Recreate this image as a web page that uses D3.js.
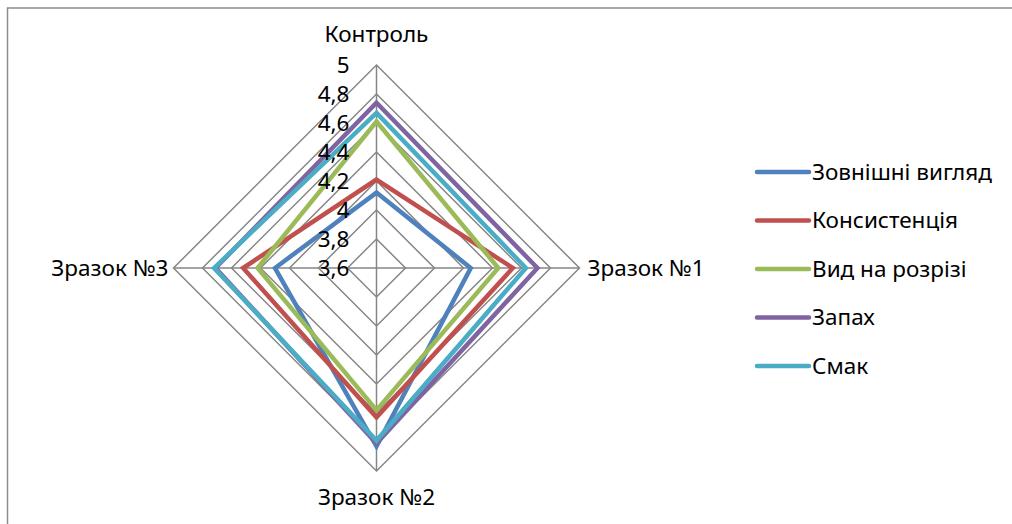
<!DOCTYPE html>
<html>
<head>
<meta charset="utf-8">
<script src="https://cdn.jsdelivr.net/npm/d3@7"></script>
<style>
  html, body { margin: 0; padding: 0; background: #fff; }
  svg { display: block; }
  text { font-family: "Noto Sans", "Open Sans", sans-serif; fill: #000; }
</style>
</head>
<body>
<svg id="chart" width="1012" height="524"></svg>
<script>
// Categories around the radar (clockwise from top)
const categories = ["Контроль", "Зразок №1", "Зразок №2", "Зразок №3"];

// Sensory scores per indicator
const seriesNames = ["Зовнішні вигляд", "Консистенція", "Вид на розрізі", "Запах", "Смак"];
const zovnishniVyhliad = [4.12, 4.25, 4.83, 4.30];
const konsystentsiia   = [4.21, 4.54, 4.63, 4.52];
const vydNaRozrizi     = [4.61, 4.44, 4.58, 4.42];
const zapakh           = [4.74, 4.71, 4.81, 4.71];
const smak             = [4.67, 4.63, 4.79, 4.72];

// Radial axis ticks
const tickValues = [3.6, 3.8, 4.0, 4.2, 4.4, 4.6, 4.8, 5.0];
const tickLabels = ["3,6", "3,8", "4", "4,2", "4,4", "4,6", "4,8", "5"];

const colors = ["#4F81BD", "#C0504D", "#9BBB59", "#8064A2", "#4BACC6"];
const seriesValues = [zovnishniVyhliad, konsystentsiia, vydNaRozrizi, zapakh, smak];

const FS = 22.5;
const svg = d3.select("#chart");

// Outer chart frame
svg.append("rect")
  .attr("x", 7.5).attr("y", 8)
  .attr("width", 1100).attr("height", 600)
  .attr("fill", "none")
  .attr("stroke", "#8c8c8c")
  .attr("stroke-width", 1.5);

const cx = 376.5, cy = 268, R = 203;
const r = d3.scaleLinear().domain([3.6, 5]).range([0, R]);
const ang = c => categories.indexOf(c) * (2 * Math.PI / categories.length);

const g = svg.append("g").attr("transform", `translate(${cx},${cy})`);

const radial = d3.lineRadial()
  .angle((d, i) => i * 2 * Math.PI / categories.length)
  .radius(d => r(d))
  .curve(d3.curveLinearClosed);

// Concentric grid polygons
g.selectAll("path.grid")
  .data(tickValues.slice(1))
  .join("path")
  .attr("class", "grid")
  .attr("d", v => radial(categories.map(() => v)))
  .attr("fill", "none")
  .attr("stroke", "#868686")
  .attr("stroke-width", 1.5);

// Spokes
g.selectAll("line.spoke")
  .data(categories)
  .join("line")
  .attr("class", "spoke")
  .attr("x1", 0).attr("y1", 0)
  .attr("x2", c => r(5) * Math.sin(ang(c)))
  .attr("y2", c => -r(5) * Math.cos(ang(c)))
  .attr("stroke", "#868686")
  .attr("stroke-width", 1.5);

// Series outlines
g.selectAll("path.series")
  .data(seriesValues)
  .join("path")
  .attr("class", "series")
  .attr("d", d => radial(d))
  .attr("fill", "none")
  .attr("stroke", (d, i) => colors[i])
  .attr("stroke-width", 4.5)
  .attr("stroke-linejoin", "miter");

// Tick labels along the top spoke
g.selectAll("text.tick")
  .data(tickValues)
  .join("text")
  .attr("class", "tick")
  .attr("x", -27)
  .attr("y", v => -r(v))
  .attr("dy", "0.35em")
  .attr("text-anchor", "end")
  .attr("font-size", FS)
  .text((v, i) => tickLabels[i]);

// Category labels
const catPos = [
  { x: 0, y: -234, anchor: "middle" },
  { x: 211, y: 0, anchor: "start" },
  { x: 0, y: 229, anchor: "middle" },
  { x: -208, y: 0, anchor: "end" }
];
g.selectAll("text.cat")
  .data(categories)
  .join("text")
  .attr("class", "cat")
  .attr("x", (c, i) => catPos[i].x)
  .attr("y", (c, i) => catPos[i].y)
  .attr("dy", "0.35em")
  .attr("text-anchor", (c, i) => catPos[i].anchor)
  .attr("font-size", FS)
  .text(c => c);

// Legend
const legend = svg.append("g").attr("transform", "translate(755,172)");
const rows = legend.selectAll("g")
  .data(seriesNames)
  .join("g")
  .attr("transform", (d, i) => `translate(0,${i * 48.5})`);
rows.append("line")
  .attr("x1", 2).attr("x2", 54)
  .attr("y1", 0).attr("y2", 0)
  .attr("stroke", (d, i) => colors[i])
  .attr("stroke-width", 4.5)
  .attr("stroke-linecap", "round");
rows.append("text")
  .attr("x", 57)
  .attr("y", 0)
  .attr("dy", "0.35em")
  .attr("font-size", FS)
  .text(d => d);
</script>
</body>
</html>
